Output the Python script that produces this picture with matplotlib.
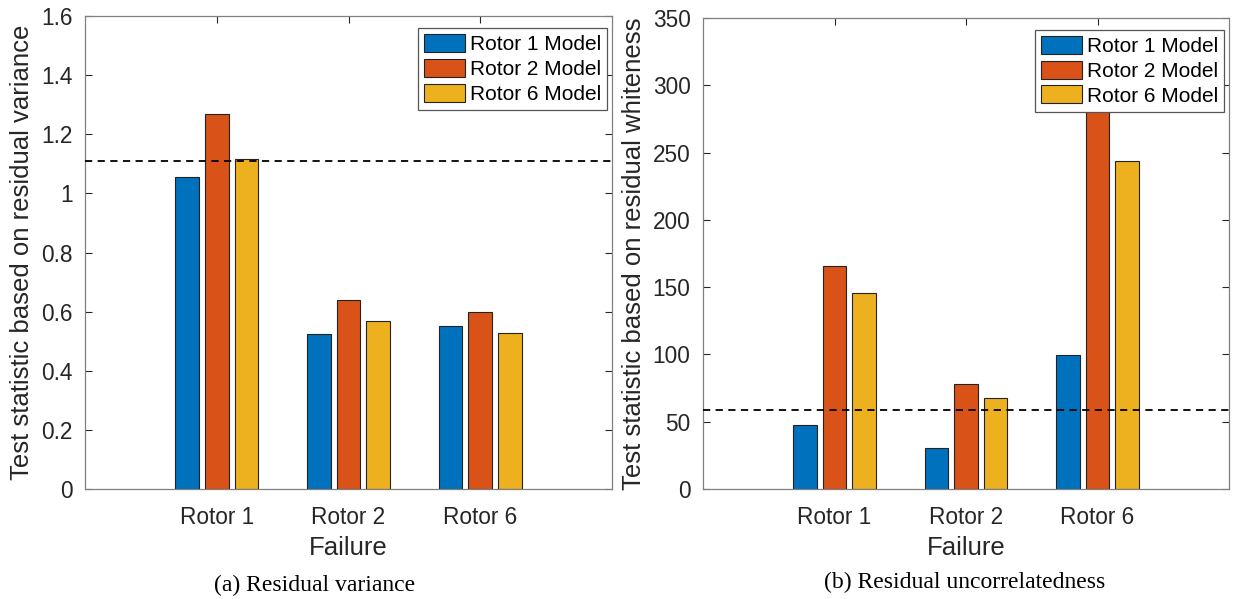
import numpy as np
import matplotlib.pyplot as plt

plt.rcParams['font.family'] = ['Liberation Sans', 'DejaVu Sans']

failures = ['Rotor 1', 'Rotor 2', 'Rotor 6']
models = ['Rotor 1 Model', 'Rotor 2 Model', 'Rotor 6 Model']
colors = ['#0072BD', '#D95319', '#EDB120']

# residual variance test statistic, one list per model, one value per failure
var_m1 = [1.055, 0.524, 0.551]
var_m2 = [1.268, 0.639, 0.599]
var_m6 = [1.116, 0.568, 0.528]
var_threshold = 1.108

# residual whiteness test statistic
white_m1 = [47.6, 30.5, 99.6]
white_m2 = [165.7, 78.0, 300.0]
white_m6 = [145.6, 67.6, 243.7]
white_threshold = 58.5

fig = plt.figure(figsize=(12.38, 5.99), dpi=100)
ax1 = fig.add_axes([85/1238, 1-489/599, 527/1238, 473/599])
ax2 = fig.add_axes([703/1238, 1-489/599, 526/1238, 471/599])

x = np.arange(1, 4)
width = 0.18
offset = 0.225
edge = '#222222'


def draw(ax, series, thr, ylim, yticks, ylabel):
    for i, (vals, c, lab) in enumerate(zip(series, colors, models)):
        ax.bar(x + (i - 1) * offset, vals, width, color=c, edgecolor=edge,
               linewidth=0.8, label=lab, zorder=2)
    ax.axhline(thr, color='black', linestyle=(0, (4, 3)), linewidth=1.3, zorder=3)
    ax.set_xlim(0, 4)
    ax.set_ylim(*ylim)
    ax.set_yticks(yticks)
    ax.set_xticks(x)
    ax.set_xticklabels(failures)
    ax.set_xlabel('Failure', fontsize=18.5, color='#262626', labelpad=5)
    ax.set_ylabel(ylabel, fontsize=18.5, color='#262626', labelpad=5)
    ax.tick_params(direction='in', length=5, width=0.8, colors='#262626',
                   labelsize=16.3, top=True, right=True, pad=9)
    ax.tick_params(axis='x', pad=12)
    for s in ax.spines.values():
        s.set_color('#808080')
        s.set_linewidth(0.9)
    leg = ax.legend(loc='upper right', bbox_to_anchor=(0.991, 0.975),
                    fontsize=15, frameon=True, fancybox=False,
                    handlelength=1.95, handleheight=0.95, handletextpad=0.25,
                    labelspacing=0.22, borderpad=0.3, borderaxespad=0,
                    edgecolor='#555555', framealpha=1)
    leg.get_frame().set_linewidth(0.9)
    leg.set_zorder(5)


draw(ax1, [var_m1, var_m2, var_m6], var_threshold, (0, 1.6),
     np.arange(0, 1.61, 0.2), 'Test statistic based on residual variance')
ax1.set_yticklabels(['0', '0.2', '0.4', '0.6', '0.8', '1', '1.2', '1.4', '1.6'])
draw(ax2, [white_m1, white_m2, white_m6], white_threshold, (0, 350),
     np.arange(0, 351, 50), 'Test statistic based on residual whiteness')

fig.text(315/1238, 1-585/599, '(a) Residual variance', ha='center', va='center',
         fontsize=17, family='Liberation Serif')
fig.text(965/1238, 1-582/599, '(b) Residual uncorrelatedness', ha='center', va='center',
         fontsize=17, family='Liberation Serif')

fig.savefig('out.png', dpi=100)
